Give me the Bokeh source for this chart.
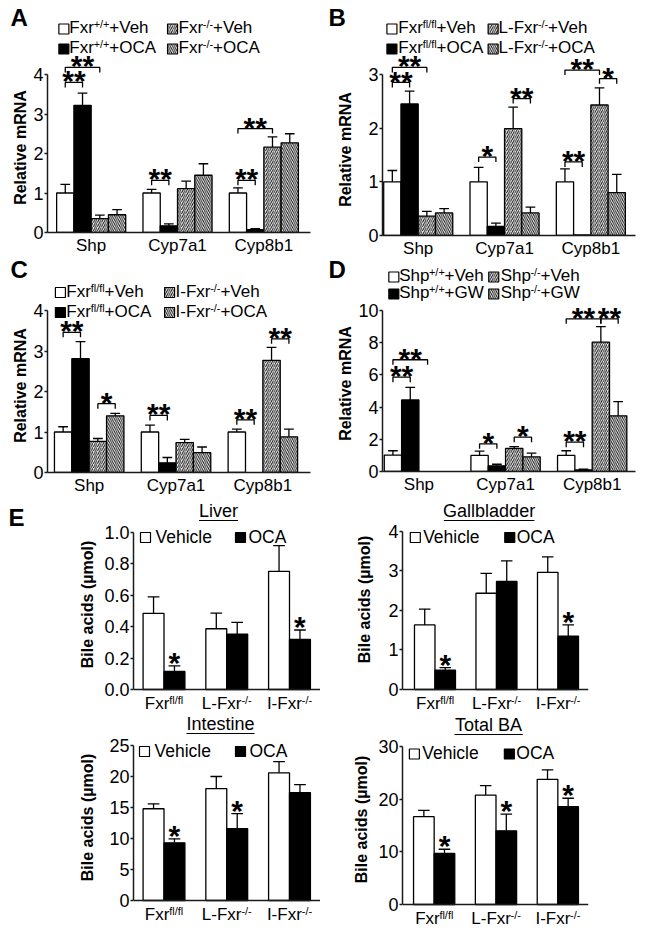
import math
from bokeh.plotting import figure
from bokeh.models import Label, FixedTicker, Range1d, PrintfTickFormatter
from bokeh.layouts import row, column
from bokeh.embed import file_html
from bokeh.resources import INLINE

FONT = "Liberation Sans"
AXC = "#1a1a1a"

# ---------------- data ----------------
genes = ["Shp", "Cyp7a1", "Cyp8b1"]

# Panel A  (Fxr+/+ Veh, Fxr+/+ OCA, Fxr-/- Veh, Fxr-/- OCA)
a_mean = [[1.00, 1.00, 1.00], [3.22, 0.17, 0.07], [0.35, 1.11, 2.16], [0.45, 1.45, 2.27]]
a_sem = [[0.22, 0.09, 0.13], [0.31, 0.05, 0.03], [0.09, 0.19, 0.26], [0.13, 0.29, 0.23]]
# (gene, bar_from, bar_to, bracket_top, label)
a_sig = [(0, 0, 1, 3.80, "**"), (0, 0, 2, 4.18, "**"), (1, 0, 1, 1.32, "**"),
         (2, 0, 1, 1.32, "**"), (2, 0, 2, 2.63, "**")]
a_leg = [[("Fxr", 0), ("+/+", 1), ("+Veh", 0)], [("Fxr", 0), ("+/+", 1), ("+OCA", 0)],
         [("Fxr", 0), ("-/-", 1), ("+Veh", 0)], [("Fxr", 0), ("-/-", 1), ("+OCA", 0)]]

# Panel B
b_mean = [[1.00, 1.00, 1.00], [2.45, 0.17, 0.01], [0.36, 1.99, 2.43], [0.42, 0.42, 0.80]]
b_sem = [[0.21, 0.27, 0.24], [0.24, 0.06, 0.00], [0.09, 0.40, 0.32], [0.08, 0.11, 0.34]]
b_sig = [(0, 0, 1, 2.85, "**"), (0, 0, 2, 3.13, "**"), (1, 0, 1, 1.46, "*"), (1, 2, 3, 2.55, "**"),
         (2, 0, 1, 1.37, "**"), (2, 0, 2, 3.08, "**"), (2, 2, 3, 2.92, "*")]
b_leg = [[("Fxr", 0), ("fl/fl", 1), ("+Veh", 0)], [("Fxr", 0), ("fl/fl", 1), ("+OCA", 0)],
         [("L-Fxr", 0), ("-/-", 1), ("+Veh", 0)], [("L-Fxr", 0), ("-/-", 1), ("+OCA", 0)]]

# Panel C
c_mean = [[1.00, 1.00, 1.00], [2.81, 0.24, 0.00], [0.77, 0.74, 2.77], [1.40, 0.49, 0.88]]
c_sem = [[0.13, 0.17, 0.07], [0.42, 0.13, 0.00], [0.07, 0.08, 0.32], [0.06, 0.14, 0.19]]
c_sig = [(0, 0, 1, 3.46, "**"), (0, 2, 3, 1.70, "*"), (1, 0, 1, 1.41, "**"),
         (2, 0, 1, 1.30, "**"), (2, 2, 3, 3.30, "**")]
c_leg = [[("Fxr", 0), ("fl/fl", 1), ("+Veh", 0)], [("Fxr", 0), ("fl/fl", 1), ("+OCA", 0)],
         [("I-Fxr", 0), ("-/-", 1), ("+Veh", 0)], [("I-Fxr", 0), ("-/-", 1), ("+OCA", 0)]]

# Panel D
d_mean = [[1.02, 1.00, 1.00], [4.44, 0.35, 0.10], [0.00, 1.43, 8.03], [0.00, 0.91, 3.46]]
d_sem = [[0.27, 0.26, 0.29], [0.79, 0.10, 0.04], [0.00, 0.11, 0.97], [0.00, 0.23, 0.88]]
d_sig = [(0, 0, 1, 5.86, "**"), (0, 0, 2, 6.94, "**"), (1, 0, 1, 1.72, "*"), (1, 2, 3, 2.13, "*"),
         (2, 0, 1, 1.82, "**"), (2, 0, 2, 9.48, "**"), (2, 2, 3, 9.48, "**")]
d_leg = [[("Shp", 0), ("+/+", 1), ("+Veh", 0)], [("Shp", 0), ("+/+", 1), ("+GW", 0)],
         [("Shp", 0), ("-/-", 1), ("+Veh", 0)], [("Shp", 0), ("-/-", 1), ("+GW", 0)]]

# Panel E
e_groups = [[("Fxr", 0), ("fl/fl", 1)], [("L-Fxr", 0), ("-/-", 1)], [("I-Fxr", 0), ("-/-", 1)]]
e_series = ["Vehicle", "OCA"]
liver_veh = [0.485, 0.387, 0.753]; liver_veh_sem = [0.105, 0.100, 0.164]
liver_oca = [0.115, 0.353, 0.319]; liver_oca_sem = [0.035, 0.075, 0.060]
liver_sig = [1, 0, 1]
gb_veh = [1.63, 2.43, 2.96]; gb_veh_sem = [0.40, 0.50, 0.39]
gb_oca = [0.49, 2.73, 1.35]; gb_oca_sem = [0.06, 0.52, 0.28]
gb_sig = [1, 0, 1]
int_veh = [14.8, 18.06, 20.6]; int_veh_sem = [0.8, 1.94, 1.8]
int_oca = [9.3, 11.6, 17.4]; int_oca_sem = [0.65, 2.4, 1.3]
int_sig = [1, 1, 0]
tot_veh = [16.7, 20.8, 23.8]; tot_veh_sem = [1.2, 1.8, 1.8]
tot_oca = [9.7, 14.0, 18.6]; tot_oca_sem = [0.8, 3.2, 1.6]
tot_sig = [1, 1, 1]

# ---------------- helpers ----------------
AW = {' ': 278, '(': 333, ')': 333, '*': 389, '+': 584, '-': 333, '.': 278, '/': 278,
      'A': 667, 'B': 667, 'C': 722, 'D': 722, 'E': 667, 'F': 611, 'G': 778, 'H': 722, 'I': 278,
      'L': 556, 'O': 778, 'S': 667, 'T': 611, 'V': 667, 'W': 944, 'a': 556, 'b': 556, 'c': 500,
      'd': 556, 'e': 556, 'f': 278, 'h': 556, 'i': 222, 'l': 222, 'n': 556, 'o': 556, 'p': 556,
      'r': 333, 's': 500, 't': 278, 'v': 500, 'x': 500, 'y': 500}


def tw(s, size):
    return sum(AW.get(c, 556) for c in s) / 1000.0 * size


STYLES = [dict(fill_color="white"), dict(fill_color="black"),
          dict(fill_color="white", hatch_pattern="right_diagonal_line"),
          dict(fill_color="white", hatch_pattern="left_diagonal_line")]
HATCH = dict(hatch_color="#111111", hatch_scale=4.2, hatch_weight=1.0)
BASE_SHIFT = 0.40  # rendered alphabetic baseline sits ~0.4 em below the requested point


def bare_fig(w, h, xr, yr, **kw):
    return figure(width=w, height=h, x_range=xr, y_range=yr, output_backend="svg",
                  toolbar_location=None, outline_line_color=None,
                  background_fill_color=None, border_fill_color=None, **kw)


class Strip:
    """A figure without axes whose data coordinates are page pixels (y downwards)."""

    def __init__(self, cl, ct, cr, cb):
        self.f = bare_fig(cr - cl, cb - ct, Range1d(cl, cr), Range1d(cb, ct),
                          x_axis_type=None, y_axis_type=None, min_border_left=0,
                          min_border_right=0, min_border_top=0, min_border_bottom=0)
        self.f.grid.visible = False

    def dx(self, X):
        return X

    def dy(self, Y):
        return Y


class Panel:
    def __init__(self, g, yticks, fmt=None, xlabels=True):
        cl, ct, cr, cb = g["canvas"]
        self.ax, self.ay, self.ppx, self.ppy, self.x0 = g["ax"], g["ay"], g["ppx"], g["ppy"], g["x0"]
        xs = (g["ax"] - g["x0"]) / g["ppx"]
        xe = (g["ar"] - g["x0"]) / g["ppx"]
        ye = (g["ay"] - ct) / g["ppy"]
        if xlabels:
            fb, ys = cb - g["ay"], 0.0
        else:
            # frame reaches below the x axis, which is pinned at y = 0
            fb = 2
            ys = -((cb - fb) - g["ay"]) / g["ppy"]
        f = bare_fig(cr - cl, cb - ct, Range1d(xs, xe), Range1d(ys, ye),
                     min_border_left=g["ax"] - cl, min_border_right=cr - g["ar"],
                     min_border_top=0, min_border_bottom=fb)
        f.grid.visible = False
        xa, ya = f.xaxis[0], f.yaxis[0]
        for a in (xa, ya):
            a.axis_line_color = AXC
            a.axis_line_width = 1.5
            a.major_tick_line_color = AXC
            a.major_tick_line_width = 1.5
            a.minor_tick_line_color = None
            a.major_label_text_font = FONT
            a.major_label_text_color = "black"
        ya.ticker = FixedTicker(ticks=yticks)
        ya.bounds = (0, yticks[-1])
        ya.major_tick_out = 3
        ya.major_tick_in = 0
        ya.major_label_standoff = 1
        ya.major_label_text_font_size = "18px"
        if fmt:
            ya.formatter = PrintfTickFormatter(format=fmt)
        xa.major_tick_line_color = None
        xa.major_tick_out = 0
        xa.major_tick_in = 0
        if xlabels:
            xa.ticker = FixedTicker(ticks=[0, 1, 2])
            xa.major_label_overrides = {i: s for i, s in enumerate(genes)}
            xa.major_label_standoff = 3
            xa.major_label_text_font_size = "17px"
        else:
            xa.ticker = FixedTicker(ticks=[])
            xa.major_label_standoff = 0
            xa.fixed_location = 0
        self.f = f

    def dx(self, X):
        return (X - self.x0) / self.ppx

    def dy(self, Y):
        return (self.ay - Y) / self.ppy

    def px_x(self, x):
        return self.x0 + x * self.ppx

    def px_y(self, y):
        return self.ay - y * self.ppy


def T(fg, t, X, Y, size, bold=False, align="left", angle=0.0):
    if angle:
        X = X - BASE_SHIFT * size
    else:
        Y = Y - BASE_SHIFT * size
    fg.f.add_layout(Label(x=fg.dx(X), y=fg.dy(Y), text=t, text_font=FONT,
                          text_font_size=f"{size}px", text_font_style="bold" if bold else "normal",
                          angle=angle, text_align=align, text_baseline="alphabetic",
                          text_color="black"))


def rich(fg, segs, X, Y, size, align="left"):
    ss = size * 0.64
    widths = [tw(t, ss if s else size) for t, s in segs]
    if align == "center":
        X = X - sum(widths) / 2.0
    for (t, s), w in zip(segs, widths):
        T(fg, t, X, Y - (size * 0.36 if s else 0), ss if s else size)
        X += w


def square(pn, Xc, Yc, style):
    pn.f.rect(x=[pn.dx(Xc)], y=[pn.dy(Yc)], width=10, height=10, width_units="screen",
              height_units="screen", line_color="black", line_width=1.2, **style, **HATCH)


def bars(pn, means, sems, offs, w):
    f = pn.f
    n = len(means[0])
    for k, (m, s) in enumerate(zip(means, sems)):
        xs = [i + offs[k] for i in range(n) if m[i] > 0]
        tops = [m[i] for i in range(n) if m[i] > 0]
        f.vbar(x=xs, top=tops, bottom=0, width=w, line_color="black", line_width=1.3,
               **STYLES[k], **HATCH)
        ex = [i + offs[k] for i in range(n) if s[i] > 0]
        y0 = [m[i] for i in range(n) if s[i] > 0]
        y1 = [m[i] + s[i] for i in range(n) if s[i] > 0]
        f.segment(x0=ex, y0=y0, x1=ex, y1=y1, line_color="black", line_width=1.3)
        cw = w * 0.28
        f.segment(x0=[x - cw for x in ex], y0=y1, x1=[x + cw for x in ex], y1=y1,
                  line_color="black", line_width=1.3)


def star(pn, t, X, y_ref_px, size=30):
    # asterisk centre ~7 px above y_ref_px; its centre is ~0.585 em above the baseline
    T(pn, t, X, y_ref_px - 7 + 0.585 * size, size, bold=True, align="center")


def gene_main(g, means, sems, sig, leg, legpos, yticks):
    pn = Panel(g, yticks)
    f = pn.f
    offs = [-0.3, -0.1, 0.1, 0.3]
    bars(pn, means, sems, offs, 0.2)
    leg_len = 5.0 / pn.ppy
    for gi, a, b, top, lab in sig:
        x1, x2 = gi + offs[a], gi + offs[b]
        f.multi_line(xs=[[x1, x1, x2, x2]], ys=[[top - leg_len, top, top, top - leg_len]],
                     line_color="black", line_width=1.3)
        star(pn, lab, pn.px_x((x1 + x2) / 2.0), pn.px_y(top))
    colsq, coltx, rowsq, rowbl = legpos
    for k, segs in enumerate(leg):
        c, r = k // 2, k % 2
        square(pn, colsq[c], rowsq[r], STYLES[k])
        rich(pn, segs, coltx[c], rowbl[r], 17)
    return f


def ba_main(g, yticks, fmt, title, veh, vsem, oca, osem, sig, legpos):
    pn = Panel(g, yticks, fmt, xlabels=False)
    f = pn.f
    offs = [-1 / 6.0, 1 / 6.0]
    bars(pn, [veh, oca], [vsem, osem], offs, 1 / 3.0)
    for i in range(3):
        if sig[i]:
            star(pn, "*", pn.px_x(i + offs[1]), pn.px_y(oca[i] + osem[i]) - 2)
        rich(pn, e_groups[i], pn.px_x(i), g["ay"] + 21, 17, align="center")
    sq, tx, yc, yb = legpos
    for k in range(2):
        square(pn, sq[k], yc, STYLES[k])
        T(pn, e_series[k], tx[k], yb, 17.5)
    tX, tY = title[1], title[2]
    T(pn, title[0], tX, tY, 18, align="center")
    h = tw(title[0], 18) / 2.0
    f.segment(x0=[pn.dx(tX - h)], y0=[pn.dy(tY + 2)], x1=[pn.dx(tX + h)], y1=[pn.dy(tY + 2)],
              line_color="black", line_width=1.2)
    return f


def strip_with(box, letters, ylabels):
    st = Strip(*box)
    for t, X, Y in letters:
        T(st, t, X, Y, 24, bold=True)
    for t, X, Y in ylabels:
        T(st, t, X, Y, 16, bold=True, align="center", angle=math.pi / 2)
    return st.f


# ---------------- layout geometry (page pixels) ----------------
gA = dict(canvas=(30, 0, 320, 258), ax=45, ar=310, ay=232, ppy=39.5, x0=89, ppx=87)
gC = dict(canvas=(30, 258, 320, 500), ax=47, ar=312, ay=472, ppy=40.5, x0=89, ppx=87.5)
gB = dict(canvas=(355, 0, 645, 260), ax=380, ar=635, ay=235, ppy=53.7, x0=416, ppx=87)
gD = dict(canvas=(355, 260, 645, 500), ax=380, ar=637, ay=471, ppy=16.1, x0=417, ppx=88)
gL = dict(canvas=(100, 500, 320, 714), ax=133, ar=320, ay=689, ppy=157, x0=163.5, ppx=62.75)
gI = dict(canvas=(100, 714, 320, 935), ax=133, ar=320, ay=900, ppy=6.2, x0=163.5, ppx=62.75)
gG = dict(canvas=(375, 500, 645, 714), ax=399, ar=588, ay=689, ppy=39.6, x0=432, ppx=62.5)
gT = dict(canvas=(375, 714, 645, 935), ax=400, ar=588, ay=904, ppy=5.26, x0=432, ppx=62.5)

mA = gene_main(gA, a_mean, a_sem, a_sig, a_leg, ([61.5, 171], [67, 177], [28.5, 48.5], [34, 54]),
               [0, 1, 2, 3, 4])
mC = gene_main(gC, c_mean, c_sem, c_sig, c_leg, ([60, 170], [66, 176], [292, 312], [298, 318]),
               [0, 1, 2, 3, 4])
mB = gene_main(gB, b_mean, b_sem, b_sig, b_leg, ([389.5, 491.5], [396, 497], [28.5, 48.5], [34, 54]),
               [0, 1, 2, 3])
mD = gene_main(gD, d_mean, d_sem, d_sig, d_leg, ([391.5, 493], [397, 500], [276.5, 293.5], [282, 299]),
               [0, 2, 4, 6, 8, 10])

mL = ba_main(gL, [0, 0.2, 0.4, 0.6, 0.8, 1.0], "%.1f", ("Liver", 218, 518),
             liver_veh, liver_veh_sem, liver_oca, liver_oca_sem, liver_sig,
             ([145, 240], [155, 248], 537, 543))
mI = ba_main(gI, [0, 5, 10, 15, 20, 25], None, ("Intestine", 220, 731),
             int_veh, int_veh_sem, int_oca, int_oca_sem, int_sig,
             ([144, 240], [154, 249], 751, 757))
mG = ba_main(gG, [0, 1, 2, 3, 4], None, ("Gallbladder", 487, 518),
             gb_veh, gb_veh_sem, gb_oca, gb_oca_sem, gb_sig,
             ([412, 508], [420, 515], 537, 543))
mT = ba_main(gT, [0, 10, 20, 30], None, ("Total BA", 487, 732),
             tot_veh, tot_veh_sem, tot_oca, tot_oca_sem, tot_sig,
             ([412, 508], [420, 515], 753.5, 759))

sAC = strip_with((0, 0, 30, 500), [("A", 10, 27), ("C", 10, 279)],
                 [("Relative mRNA", 26.5, 147), ("Relative mRNA", 26.5, 385)])
sBD = strip_with((320, 0, 355, 500), [("B", 328, 27), ("D", 328, 279)],
                 [("Relative mRNA", 351.5, 149), ("Relative mRNA", 351, 383)])
sLI = strip_with((0, 500, 100, 935), [("E", 8, 527)],
                 [("Bile acids (µmol)", 93, 604), ("Bile acids (µmol)", 93, 817)])
sGT = strip_with((320, 500, 375, 935), [],
                 [("Bile acids (µmol)", 370, 599), ("Bile acids (µmol)", 367, 819)])

left = column(row(sAC, column(mA, mC)), row(sLI, column(mL, mI)))
right = column(row(sBD, column(mB, mD)), row(sGT, column(mG, mT)))
layout = row(left, right)
open("out.html", "w").write(file_html(layout, INLINE))
